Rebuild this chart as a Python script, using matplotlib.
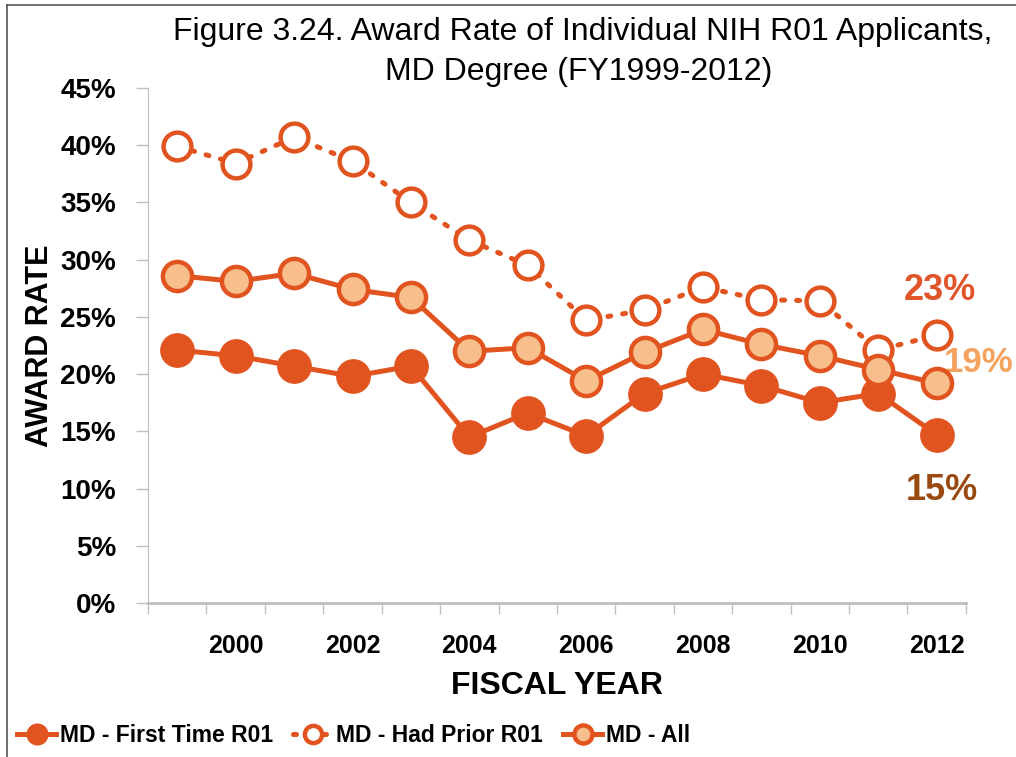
import matplotlib.pyplot as plt
from matplotlib.lines import Line2D

years = list(range(1999, 2013))
first_time = [22.1, 21.6, 20.7, 19.8, 20.7, 14.5, 16.6, 14.6, 18.3, 20.0, 19.0, 17.5, 18.3, 14.7]
had_prior = [39.9, 38.4, 40.7, 38.6, 35.0, 31.7, 29.5, 24.7, 25.6, 27.6, 26.5, 26.4, 22.1, 23.4]
md_all = [28.6, 28.1, 28.8, 27.4, 26.7, 22.0, 22.3, 19.4, 21.9, 23.9, 22.6, 21.6, 20.4, 19.2]
yticks = [0, 5, 10, 15, 20, 25, 30, 35, 40, 45]
xtick_years = [2000, 2002, 2004, 2006, 2008, 2010, 2012]

plt.rcParams['font.family'] = ['Liberation Sans', 'DejaVu Sans']

orange = '#E2541F'
peach = '#F8BE8C'
gray = '#BFBFBF'

fig = plt.figure(figsize=(10.16, 7.57), dpi=100)
ax = fig.add_axes([0.1457, 0.2034, 0.805, 0.6804])

ax.plot(years, first_time, color=orange, lw=3.6, marker='o', ms=24,
        markerfacecolor=orange, markeredgecolor=orange, label='MD - First Time R01', zorder=3)
ax.plot(years, had_prior, color=orange, lw=3.6, ls=(0, (0.6, 2.4)), dash_capstyle='round',
        marker='o', ms=20, markerfacecolor='white', markeredgecolor=orange, mew=3.2,
        label='MD - Had Prior R01', zorder=4)
ax.plot(years, md_all, color=orange, lw=3.6, marker='o', ms=21,
        markerfacecolor=peach, markeredgecolor=orange, mew=3.2, label='MD - All', zorder=5)

ax.set_xlim(1998.5, 2012.5)
ax.set_ylim(0, 45)
ax.set_yticks(yticks)
ax.set_yticklabels([f'{v}%' for v in yticks], fontsize=20, fontweight='bold')
ax.set_xticks([y + 0.5 for y in range(1998, 2013)])
ax.set_xticklabels([])
ax.set_xticks(xtick_years, minor=True)
ax.set_xticklabels([str(y) for y in xtick_years], minor=True, fontsize=18, fontweight='bold')
ax.tick_params(axis='x', which='minor', length=0, pad=22)
ax.tick_params(axis='x', which='major', length=8, color=gray, width=1)
ax.tick_params(axis='y', length=9, color=gray, width=1, pad=14)

for s in ['top', 'right']:
    ax.spines[s].set_visible(False)
ax.spines['left'].set_color(gray)
ax.spines['bottom'].set_color(gray)
ax.spines['bottom'].set_linewidth(2)

ax.set_xlabel('FISCAL YEAR', fontsize=23, fontweight='bold', labelpad=10)
ax.set_ylabel('AWARD RATE', fontsize=22, fontweight='bold', labelpad=4)

fig.text(0.574, 0.958, 'Figure 3.24. Award Rate of Individual NIH R01 Applicants,',
         ha='center', va='center', fontsize=23)
fig.text(0.570, 0.905, 'MD Degree (FY1999-2012)', ha='center', va='center', fontsize=23)

ax.annotate('23%', (2012, had_prior[-1]), xytext=(2, 32), textcoords='offset points',
            ha='center', va='center', fontsize=26, fontweight='bold', color='#E0562A')
ax.annotate('19%', (2012, md_all[-1]), xytext=(5, 15), textcoords='offset points',
            ha='left', va='center', fontsize=25, fontweight='bold', color='#F4A25E',
            annotation_clip=False)
ax.annotate('15%', (2012, first_time[-1]), xytext=(4, -40), textcoords='offset points',
            ha='center', va='center', fontsize=26, fontweight='bold', color='#9A4A10')

leg = fig.legend(loc='center left', bbox_to_anchor=(0.008, 0.029), ncol=3, frameon=False,
                 fontsize=16.5, handlelength=1.7, columnspacing=0.9, handletextpad=0.15,
                 markerscale=0.62, borderaxespad=0)
for t in leg.get_texts():
    t.set_fontweight('bold')

fig.add_artist(Line2D([0.007, 0.007], [0, 0.994], color='#555555', lw=1.2))
fig.add_artist(Line2D([0.007, 1], [0.994, 0.994], color='#555555', lw=1.2))

fig.savefig('out.png', dpi=100)
